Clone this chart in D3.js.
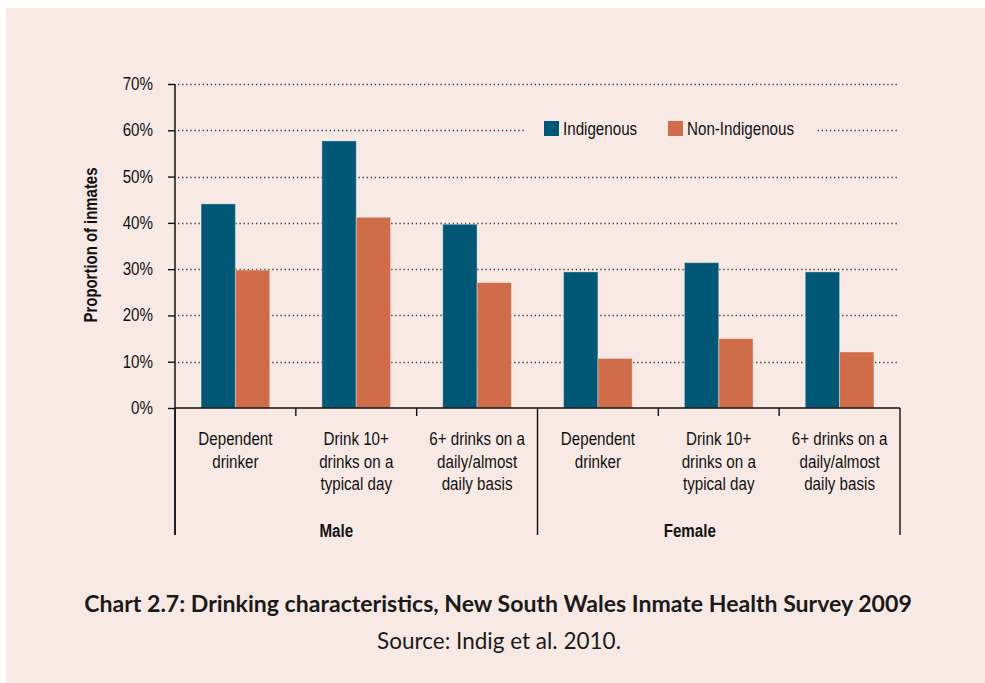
<!DOCTYPE html>
<html>
<head>
<meta charset="utf-8">
<script src="https://cdn.jsdelivr.net/npm/d3@7/dist/d3.min.js"></script>
<style>
  html, body { margin: 0; padding: 0; background: #ffffff; }
  svg { display: block; }
</style>
</head>
<body>
<svg id="chart" width="985" height="683"></svg>
<script>
// ---------- data ----------
const groups = ["Male", "Female"];
const categories = [
  ["Dependent", "drinker"],
  ["Drink 10+", "drinks on a", "typical day"],
  ["6+ drinks on a", "daily/almost", "daily basis"]
];
const seriesNames = ["Indigenous", "Non-Indigenous"];
const indigenous    = [44.1, 57.7, 39.7, 29.4, 31.4, 29.4];
const nonIndigenous = [29.8, 41.2, 27.1, 10.7, 15.0, 12.1];
const yTicks = [0, 10, 20, 30, 40, 50, 60, 70];
const yTitle = "Proportion of inmates";
const captionTitle = "Chart 2.7: Drinking characteristics, New South Wales Inmate Health Survey 2009";
const captionSource = "Source: Indig et al. 2010.";

// ---------- styles ----------
const colors = { "Indigenous": "#005876", "Non-Indigenous": "#cf6d4a" };
const bg = "#f8e9e5";
const ink = "#111111";

const svg = d3.select("#chart");

// detect narrow font
function measure(family, weight) {
  const t = svg.append("text").attr("x", -1000).attr("y", -1000)
    .style("font-family", family).style("font-size", "40px").style("font-weight", weight || "normal")
    .text("Dependent drinker 70%");
  const w = t.node().getComputedTextLength();
  t.remove();
  return w;
}
const wNarrow = measure("'Liberation Sans Narrow', monospace");
const wMono = measure("monospace");
const hasNarrow = Math.abs(wNarrow - wMono) > 1;
const FAM = hasNarrow ? "'Liberation Sans Narrow', 'Arial Narrow', sans-serif" : "'Liberation Sans', Arial, sans-serif";
const SX = hasNarrow ? 1 : 0.82;

function label(parent, x, y, str, o) {
  o = o || {};
  const g = parent.append("g").attr("transform", `translate(${x},${y})${o.rotate ? ` rotate(${o.rotate})` : ""} scale(${SX},1)`);
  return g.append("text")
    .attr("x", 0).attr("y", 0)
    .attr("text-anchor", o.anchor || "middle")
    .attr("dominant-baseline", "central")
    .style("font-family", FAM)
    .style("font-size", (o.size || 18.5) + "px")
    .style("font-weight", o.weight || "normal")
    .style("fill", ink)
    .text(str);
}

// background panel
svg.append("rect").attr("x", 6).attr("y", 8).attr("width", 979).attr("height", 675).attr("fill", bg);

// ---------- scales ----------
const margin = { left: 175, right: 900, top: 84, bottom: 408 };
const keys = [];
groups.forEach((g, gi) => categories.forEach((c, ci) => keys.push(gi * categories.length + ci)));

const x = d3.scaleBand().domain(keys).range([margin.left, margin.right]).padding(0);
const xs = d3.scaleBand().domain(seriesNames).range([0, x.bandwidth()]).paddingInner(0).paddingOuter(0.76);
const y = d3.scaleLinear().domain([0, 70]).range([margin.bottom, margin.top]);

// ---------- gridlines ----------
const grid = svg.append("g");
grid.selectAll("line").data(yTicks.filter(d => d > 0)).join("line")
  .attr("x1", margin.left + 3).attr("x2", margin.right - 2)
  .attr("y1", d => Math.round(y(d)) + 0.5).attr("y2", d => Math.round(y(d)) + 0.5)
  .attr("stroke", "#333").attr("stroke-width", 1.3)
  .attr("stroke-dasharray", "1.3,2.8");

// ---------- bars ----------
const rows = keys.map(k => ({ k, vals: [indigenous[k], nonIndigenous[k]] }));
const bars = svg.append("g");
rows.forEach(r => {
  seriesNames.forEach((s, si) => {
    bars.append("rect")
      .attr("x", x(r.k) + xs(s))
      .attr("y", y(r.vals[si]))
      .attr("width", xs.bandwidth())
      .attr("height", y(0) - y(r.vals[si]))
      .attr("fill", colors[s])
      .attr("stroke", "rgba(255,255,255,0.35)")
      .attr("stroke-width", 1);
  });
});

// ---------- legend ----------
const leg = svg.append("g");
leg.append("rect").attr("x", 524).attr("y", 114).attr("width", 293).attr("height", 30).attr("fill", bg);
const legItems = [{ s: "Indigenous", x: 544 }, { s: "Non-Indigenous", x: 668 }];
legItems.forEach(li => {
  leg.append("rect").attr("x", li.x).attr("y", 121).attr("width", 15).attr("height", 15).attr("fill", colors[li.s]);
  label(leg, li.x + 19, 129, li.s, { anchor: "start" });
});

// ---------- y axis ----------
const yAxisG = svg.append("g").attr("transform", `translate(${margin.left},0)`);
yAxisG.call(d3.axisLeft(y).tickValues(yTicks).tickSize(7).tickFormat(""));
yAxisG.select(".domain").remove();
yAxisG.selectAll("line").attr("stroke", ink).attr("stroke-width", 1.4);
yTicks.forEach(t => label(svg, 153, y(t), t + "%", { anchor: "end" }));
svg.append("line").attr("x1", margin.left).attr("x2", margin.left)
  .attr("y1", margin.top).attr("y2", 535).attr("stroke", ink).attr("stroke-width", 1.5);

label(svg, 91, 245, yTitle, { rotate: -90, weight: "bold", size: 18.2 });

// ---------- x axis ----------
svg.append("line").attr("x1", margin.left).attr("x2", margin.right)
  .attr("y1", margin.bottom).attr("y2", margin.bottom).attr("stroke", ink).attr("stroke-width", 1.5);
keys.forEach(k => {
  const bx = x(k);
  const isGroupEdge = k % categories.length === 0;
  svg.append("line").attr("x1", bx).attr("x2", bx).attr("y1", margin.bottom)
    .attr("y2", isGroupEdge ? 535 : 416).attr("stroke", ink).attr("stroke-width", 1.4);
});
svg.append("line").attr("x1", margin.right).attr("x2", margin.right).attr("y1", margin.bottom)
  .attr("y2", 535).attr("stroke", ink).attr("stroke-width", 1.4);

// category labels
keys.forEach(k => {
  const lines = categories[k % categories.length];
  const cx = x(k) + x.bandwidth() / 2;
  lines.forEach((ln, i) => label(svg, cx, 439 + i * 22.5, ln, {}));
});
// group labels
const groupOffset = [-20, -29];
groups.forEach((g, gi) => {
  const start = x(gi * categories.length);
  const end = x(gi * categories.length + categories.length - 1) + x.bandwidth();
  label(svg, (start + end) / 2 + groupOffset[gi], 531, g, { weight: "bold" });
});

// ---------- caption ----------
function fitText(str, cx, cy, size, weight, targetW) {
  const t = svg.append("text")
    .attr("text-anchor", "middle").attr("dominant-baseline", "alphabetic")
    .style("font-family", "Lato, 'Open Sans', sans-serif")
    .style("font-size", size + "px").style("font-weight", weight)
    .style("fill", "#1a1a1a")
    .text(str);
  const w = t.node().getComputedTextLength();
  const s = targetW / w;
  t.attr("transform", `translate(${cx},${cy}) scale(${s},1)`);
}
fitText(captionTitle, 498, 612, 23.5, "bold", 828);
fitText(captionSource, 499, 649, 23, "normal", 244);
</script>
</body>
</html>
